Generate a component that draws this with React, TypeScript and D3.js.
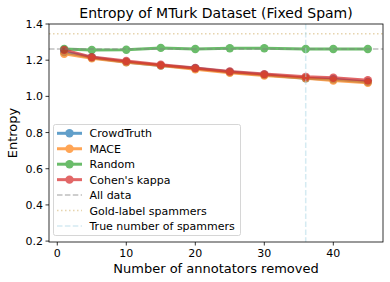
import React from "react";
import * as d3 from "d3";

const xs = [1, 5, 10, 15, 20, 25, 30, 36, 40, 45];
const crowdTruth = [1.245, 1.215, 1.19, 1.17, 1.155, 1.135, 1.12, 1.1, 1.095, 1.08];
const mace = [1.235, 1.21, 1.188, 1.17, 1.15, 1.13, 1.115, 1.1, 1.088, 1.075];
const random = [1.262, 1.256, 1.258, 1.268, 1.262, 1.266, 1.266, 1.262, 1.262, 1.262];
const cohen = [1.257, 1.217, 1.196, 1.175, 1.157, 1.138, 1.123, 1.108, 1.103, 1.089];
const allData = 1.262;
const goldLabel = 1.346;
const trueSpammers = 36;
const xTicks = [0, 10, 20, 30, 40];
const yTicks = [0.2, 0.4, 0.6, 0.8, 1.0, 1.2, 1.4];

const series = [
  { name: "CrowdTruth", values: crowdTruth, color: "#1f77b4" },
  { name: "MACE", values: mace, color: "#ff7f0e" },
  { name: "Random", values: random, color: "#2ca02c" },
  { name: "Cohen's kappa", values: cohen, color: "#d62728" },
];

const W = 390, H = 282;
const L = 49, R = 383, T = 24, B = 242;
const font = "DejaVu Sans, sans-serif";

export default function App() {
  const x = d3.scaleLinear().domain([-1.2, 47.2]).range([L, R]);
  const y = d3.scaleLinear().domain([0.195, 1.4]).range([B, T]);
  const line = d3.line<number>().x((_, i) => x(xs[i])).y((d) => y(d));

  const legendItems = [
    ...series.map((s) => ({ name: s.name, kind: "series", color: s.color })),
    { name: "All data", kind: "dash", color: "#808080" },
    { name: "Gold-label spammers", kind: "dot", color: "#d8b878" },
    { name: "True number of spammers", kind: "dash2", color: "#add8e6" },
  ];

  return (
    <svg width={W} height={H} style={{ position: "absolute", left: 0, top: 0 }} fontFamily={font}>
      <rect x={0} y={0} width={W} height={H} fill="white" />
      {series.map((s) => (
        <g key={s.name} opacity={0.7}>
          <path d={line(s.values) || ""} fill="none" stroke={s.color} strokeWidth={3} />
          {s.values.map((v, i) => (
            <circle key={i} cx={x(xs[i])} cy={y(v)} r={4.2} fill={s.color} />
          ))}
        </g>
      ))}
      <line x1={L} x2={R} y1={y(allData)} y2={y(allData)} stroke="#808080" strokeWidth={1.5} strokeDasharray="5.5,2.4" opacity={0.5} />
      <line x1={L} x2={R} y1={y(goldLabel)} y2={y(goldLabel)} stroke="#d8b878" strokeWidth={1.5} strokeDasharray="1.5,2.5" opacity={0.6} />
      <line x1={x(trueSpammers)} x2={x(trueSpammers)} y1={T} y2={B} stroke="#add8e6" strokeWidth={1.5} strokeDasharray="5.5,2.4" opacity={0.5} />

      <rect x={L} y={T} width={R - L} height={B - T} fill="none" stroke="black" strokeWidth={0.8} />
      {xTicks.map((t) => (
        <g key={t}>
          <line x1={x(t)} x2={x(t)} y1={B} y2={B + 3.5} stroke="black" strokeWidth={0.8} />
          <text x={x(t)} y={B + 15} fontSize={11} textAnchor="middle" fill="#000">{t}</text>
        </g>
      ))}
      {yTicks.map((t) => (
        <g key={t}>
          <line x1={L - 3.5} x2={L} y1={y(t)} y2={y(t)} stroke="black" strokeWidth={0.8} />
          <text x={L - 6} y={y(t) + 4} fontSize={11} textAnchor="end" fill="#000">{t.toFixed(1)}</text>
        </g>
      ))}
      <text x={(L + R) / 2} y={18} fontSize={14} textAnchor="middle">Entropy of MTurk Dataset (Fixed Spam)</text>
      <text x={(L + R) / 2} y={273} fontSize={13} textAnchor="middle">Number of annotators removed</text>
      <text transform={`translate(17,${(T + B) / 2}) rotate(-90)`} fontSize={13} textAnchor="middle">Entropy</text>

      <g>
        <rect x={53.5} y={124.5} width={187} height={111} rx={2} fill="white" fillOpacity={0.8} stroke="#cccccc" strokeWidth={0.8} />
        {legendItems.map((it, i) => {
          const cy = 133.3 + i * 15.45;
          return (
            <g key={it.name}>
              {it.kind === "series" && (
                <g opacity={0.7}>
                  <line x1={57} x2={82} y1={cy} y2={cy} stroke={it.color} strokeWidth={3} />
                  <circle cx={69.5} cy={cy} r={4.2} fill={it.color} />
                </g>
              )}
              {it.kind === "dash" && (
                <line x1={57} x2={82} y1={cy} y2={cy} stroke={it.color} strokeWidth={1.5} strokeDasharray="5.5,2.4" opacity={0.5} />
              )}
              {it.kind === "dot" && (
                <line x1={57} x2={82} y1={cy} y2={cy} stroke={it.color} strokeWidth={1.5} strokeDasharray="1.5,2.5" opacity={0.6} />
              )}
              {it.kind === "dash2" && (
                <line x1={57} x2={82} y1={cy} y2={cy} stroke={it.color} strokeWidth={1.5} strokeDasharray="5.5,2.4" opacity={0.5} />
              )}
              <text x={89.5} y={cy + 4} fontSize={11}>{it.name}</text>
            </g>
          );
        })}
      </g>
    </svg>
  );
}
